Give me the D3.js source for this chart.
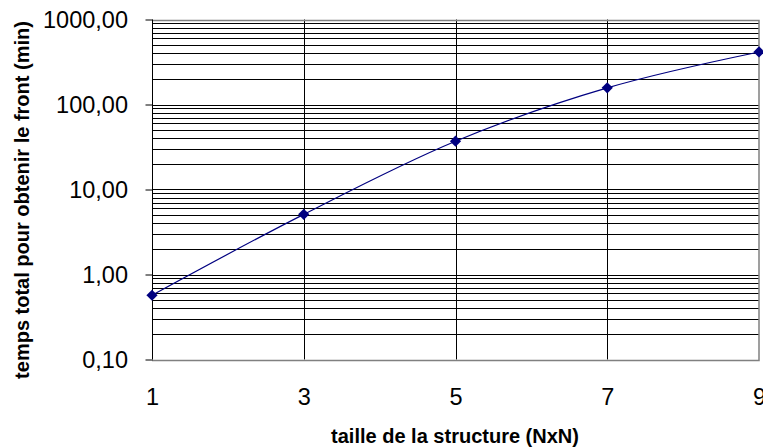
<!DOCTYPE html>
<html><head><meta charset="utf-8">
<script src="https://cdn.jsdelivr.net/npm/d3@7"></script>
<style>body{margin:0;background:#fff}svg{display:block}text{font-family:"Liberation Sans",Arial,sans-serif}</style>
</head><body>
<svg id="c" width="763" height="448"></svg>
<script>
const sizes = [1, 3, 5, 7, 9];
const times = [0.57, 5.1, 37, 157, 415];
const yTicks = [0.1, 1, 10, 100, 1000];
const xTicks = [1, 3, 5, 7, 9];
const xTitle = "taille de la structure (NxN)";
const yTitle = "temps total pour obtenir le front (min)";

const svg = d3.select("#c");
const L = 152, R = 759, T = 19.5, B = 359.5;
const x = d3.scaleLinear().domain([1, 9]).range([L, R]);
const y = d3.scaleLog().domain([0.1, 1000]).range([B, T]);

// horizontal gridlines (1..9 per decade)
const grid = [];
for (let d = 0.1; d < 1000; d *= 10) for (let k = 1; k <= 9; k++) grid.push(+(d * k).toPrecision(3));
const g = svg.append("g");
g.selectAll("line.h").data(grid.filter(v => v > 0.1 && v < 1000)).join("line")
  .attr("x1", L).attr("x2", R)
  .attr("y1", d => Math.round(y(d)) + 0.5).attr("y2", d => Math.round(y(d)) + 0.5)
  .attr("stroke", "#000").attr("stroke-width", 1);
g.selectAll("line.v").data(xTicks.filter(v => v > 1 && v < 9)).join("line")
  .attr("x1", d => Math.round(x(d)) + 0.5).attr("x2", d => Math.round(x(d)) + 0.5)
  .attr("y1", T).attr("y2", B).attr("stroke", "#000").attr("stroke-width", 1);

// frame (gray top/right/bottom)
g.append("path").attr("d", `M${L},${Math.round(T)+0.5}H${R}V${Math.round(B)+0.5}H${L}`)
  .attr("fill", "none").attr("stroke", "#808080").attr("stroke-width", 1.5);

// y axis
const ya = svg.append("g").attr("transform", `translate(${L + 0.5},0)`)
  .call(d3.axisLeft(y).tickValues(yTicks).tickSize(7).tickPadding(17.5)
    .tickFormat(d => d3.format(".2f")(d).replace(".", ",")));
ya.select(".domain").attr("stroke", "#000").attr("d", `M0,${T}V${B}`);
ya.selectAll(".tick line").attr("stroke", "#000");
ya.selectAll(".tick text").attr("font-size", 23.5).attr("fill", "#000")
  .attr("font-family", "'Liberation Sans',Arial,sans-serif");

// x axis labels
const xa = svg.append("g").attr("transform", `translate(0,${B})`)
  .call(d3.axisBottom(x).tickValues(xTicks).tickSize(0).tickPadding(28.5).tickFormat(d3.format("d")));
xa.select(".domain").remove();
xa.selectAll(".tick text").attr("font-size", 23.5).attr("fill", "#000")
  .attr("font-family", "'Liberation Sans',Arial,sans-serif");

// line
const data = sizes.map((s, i) => ({s, t: times[i]}));
svg.append("path").datum(data)
  .attr("d", d3.line().x(d => x(d.s)).y(d => y(d.t)).curve(d3.curveCatmullRom.alpha(0.5)))
  .attr("fill", "none").attr("stroke", "#000080").attr("stroke-width", 1.2);
svg.selectAll("path.m").data(data).join("path")
  .attr("d", d3.symbol(d3.symbolDiamond2, 80))
  .attr("transform", d => `translate(${x(d.s)},${y(d.t)})`)
  .attr("fill", "#000080");

// titles
svg.append("text").attr("x", 455).attr("y", 443).attr("text-anchor", "middle")
  .attr("font-size", 20).attr("font-weight", "bold").text(xTitle);
svg.append("text").attr("transform", "translate(29,200) rotate(-90)").attr("text-anchor", "middle")
  .attr("font-size", 20).attr("font-weight", "bold").text(yTitle);
</script>
</body></html>
